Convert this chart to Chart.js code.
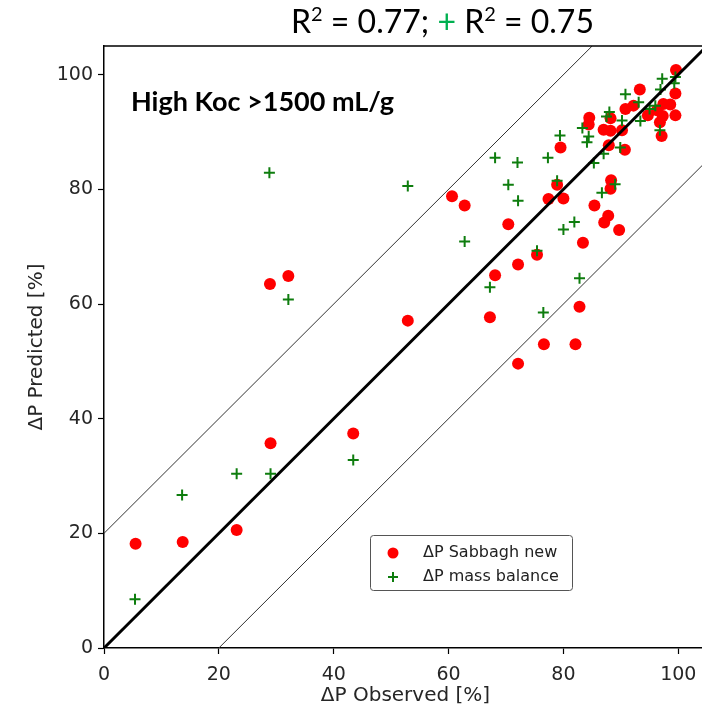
<!DOCTYPE html>
<html>
<head>
<meta charset="utf-8">
<script src="https://cdn.jsdelivr.net/npm/chart.js@4.4.0/dist/chart.umd.min.js"></script>
<style>
  html, body { margin: 0; padding: 0; background: #fff; overflow: hidden; }
  #wrap { position: relative; width: 702px; height: 710px; overflow: hidden; }
  #chart { position: absolute; left: 0; top: 0; }
</style>
</head>
<body>
<div id="wrap"><canvas id="chart" width="707" height="710"></canvas></div>
<script>
// Sabbagh new (red dots)
const sabbaghObserved = [5.5, 13.7, 23.1, 29.0, 43.4, 28.9, 32.1, 52.9, 60.6, 62.8,
    67.2, 68.1, 70.4, 72.1, 72.1, 75.4, 76.6, 77.4, 78.9, 79.5,
    80.0, 82.1, 82.8, 83.4, 85.4, 87.1, 87.8, 89.7, 88.2, 88.3,
    87.9, 90.7, 84.5, 84.4, 88.2, 87.0, 88.2, 90.2, 90.8, 92.2,
    93.3, 94.7, 96.3, 97.4, 98.6, 99.5, 97.3, 96.8, 97.1, 99.5, 99.6];
const sabbaghPredicted = [18.2, 18.5, 20.6, 35.7, 37.4, 63.5, 64.9, 57.1, 78.8, 77.2,
    57.7, 65.0, 73.9, 66.9, 49.6, 68.6, 53.0, 78.3, 80.8, 87.3,
    78.4, 53.0, 59.5, 70.7, 77.2, 74.2, 75.4, 72.9, 80.1, 81.6,
    87.7, 86.9, 92.5, 91.3, 92.4, 90.4, 90.2, 90.3, 94.0, 94.6,
    97.4, 92.9, 93.8, 94.9, 94.8, 92.9, 92.8, 91.7, 89.3, 96.7, 100.8];

// mass balance (green crosses)
const massObserved = [5.4, 13.6, 23.1, 29.0, 43.4, 28.8, 32.1, 52.9, 62.8, 67.2,
    68.1, 70.4, 72.1, 72.0, 75.4, 76.5, 77.3, 78.9, 79.4, 80.0,
    81.9, 82.8, 85.3, 86.7, 89.0, 87.0, 89.9, 84.4, 84.1, 83.3,
    87.5, 88.0, 90.2, 93.4, 90.8, 93.1, 95.0, 96.0, 96.8, 96.9,
    97.2, 99.5, 99.3];
const massPredicted = [8.5, 26.7, 30.4, 30.4, 32.8, 82.9, 60.8, 80.6, 70.9, 62.9,
    85.5, 80.8, 78.0, 84.7, 69.3, 58.5, 85.5, 81.5, 89.4, 73.0,
    74.3, 64.5, 84.6, 79.4, 80.9, 86.2, 87.3, 89.2, 88.2, 90.7,
    92.7, 93.5, 92.0, 91.9, 96.6, 95.2, 94.0, 94.6, 90.3, 97.4,
    99.3, 99.6, 98.5];

const tickValues = [0, 20, 40, 60, 80, 100];
const axisMin = 0;
const axisMax = 105;
const bandOffsets = [0, 20, -20]; // 1:1 line and +/- 20 band

const seriesLabels = ['\u0394P Sabbagh new', '\u0394P mass balance'];
const redColor = '#ff0000';
const greenColor = '#0e7d0e';

function toPoints(xs, ys) {
    return xs.map((x, i) => ({ x: x, y: ys[i] }));
}

function bandLine(offset) {
    const x0 = Math.max(axisMin, axisMin - offset);
    const x1 = Math.min(axisMax, axisMax - offset);
    return [{ x: x0, y: x0 + offset }, { x: x1, y: x1 + offset }];
}

const lineDatasets = bandOffsets.map(off => ({
    type: 'line',
    data: bandLine(off),
    borderColor: off === 0 ? '#000' : '#333',
    borderWidth: off === 0 ? 3 : 1,
    pointRadius: 0,
    fill: false,
    order: 0
}));

// extra drawing: frame top, title text, inset label, legend
const extras = {
    id: 'extras',
    afterDraw(chart) {
        const ctx = chart.ctx;
        const area = chart.chartArea;
        ctx.save();
        ctx.strokeStyle = '#000';
        ctx.lineWidth = 1.5;
        ctx.beginPath();
        ctx.moveTo(area.left, area.top);
        ctx.lineTo(area.right, area.top);
        ctx.lineTo(area.right, area.bottom);
        ctx.stroke();

        // title with superscripts
        const parts = [
            ['R', '#000', false], ['2', '#000', true], [' = 0.77; ', '#000', false],
            ['+', '#00b050', false], [' R', '#000', false], ['2', '#000', true],
            [' = 0.75', '#000', false]
        ];
        let x = 291;
        const base = 33;
        ctx.textBaseline = 'alphabetic';
        ctx.textAlign = 'left';
        parts.forEach(p => {
            ctx.font = p[2] ? '20px Lato' : '32px Lato';
            ctx.fillStyle = p[1];
            ctx.fillText(p[0], x, p[2] ? base - 12 : base);
            x += ctx.measureText(p[0]).width;
        });

        ctx.font = 'bold 27px Lato';
        ctx.fillStyle = '#000';
        ctx.fillText('High Koc >1500 mL/g', 131, 111);

        // legend
        ctx.fillStyle = 'rgba(255,255,255,0.9)';
        ctx.strokeStyle = '#555';
        ctx.lineWidth = 1;
        ctx.beginPath();
        ctx.roundRect(370.5, 535.5, 202, 55, 3);
        ctx.fill();
        ctx.stroke();

        ctx.font = '16px "DejaVu Sans"';
        ctx.textBaseline = 'middle';
        ctx.fillStyle = '#222';
        ctx.fillText(seriesLabels[0], 423, 553);
        ctx.fillText(seriesLabels[1], 423, 577);

        ctx.fillStyle = redColor;
        ctx.beginPath();
        ctx.arc(393, 553, 5.5, 0, Math.PI * 2);
        ctx.fill();

        ctx.strokeStyle = greenColor;
        ctx.lineWidth = 2;
        ctx.beginPath();
        ctx.moveTo(388, 577);
        ctx.lineTo(398, 577);
        ctx.moveTo(393, 572);
        ctx.lineTo(393, 582);
        ctx.stroke();
        ctx.restore();
    }
};

const tickFont = { family: 'DejaVu Sans', size: 19 };

function axisOptions(titleText, isY) {
    return {
        type: 'linear',
        min: axisMin,
        max: axisMax,
        afterBuildTicks: scale => {
            scale.ticks = tickValues.map(v => ({ value: v }));
        },
        afterFit: scale => {
            if (isY) {
                scale.width = 104;
            } else {
                scale.height = 62;
                scale.paddingLeft = 0;
                scale.paddingRight = 0;
            }
        },
        ticks: { color: '#262626', font: tickFont, padding: isY ? 5 : 10 },
        grid: {
            display: true,
            drawOnChartArea: false,
            drawTicks: true,
            tickLength: 6,
            tickWidth: 1.2,
            color: '#000'
        },
        border: { display: true, color: '#000', width: 1.5 },
        title: {
            display: true,
            text: titleText,
            color: '#262626',
            font: { family: 'DejaVu Sans', size: 20, lineHeight: isY ? 1.2 : 1.0 },
            padding: isY ? { top: 25 } : { top: -4 }
        }
    };
}

const ctx = document.getElementById('chart').getContext('2d');
new Chart(ctx, {
    type: 'scatter',
    data: {
        datasets: [
            {
                label: seriesLabels[1],
                data: toPoints(massObserved, massPredicted),
                pointStyle: 'cross',
                pointRadius: 5.5,
                pointBorderWidth: 2,
                borderColor: greenColor,
                backgroundColor: greenColor,
                order: 1
            },
            {
                label: seriesLabels[0],
                data: toPoints(sabbaghObserved, sabbaghPredicted),
                pointStyle: 'circle',
                pointRadius: 6,
                borderWidth: 0,
                backgroundColor: redColor,
                borderColor: redColor,
                order: 2
            },
            ...lineDatasets
        ]
    },
    options: {
        responsive: false,
        animation: false,
        layout: { autoPadding: false, padding: { top: 46, left: 0, right: 0, bottom: 0 } },
        plugins: {
            legend: { display: false },
            tooltip: { enabled: false }
        },
        scales: {
            x: axisOptions('\u0394P Observed [%]', false),
            y: axisOptions('\u0394P Predicted [%]', true)
        }
    },
    plugins: [extras]
});
</script>
</body>
</html>
